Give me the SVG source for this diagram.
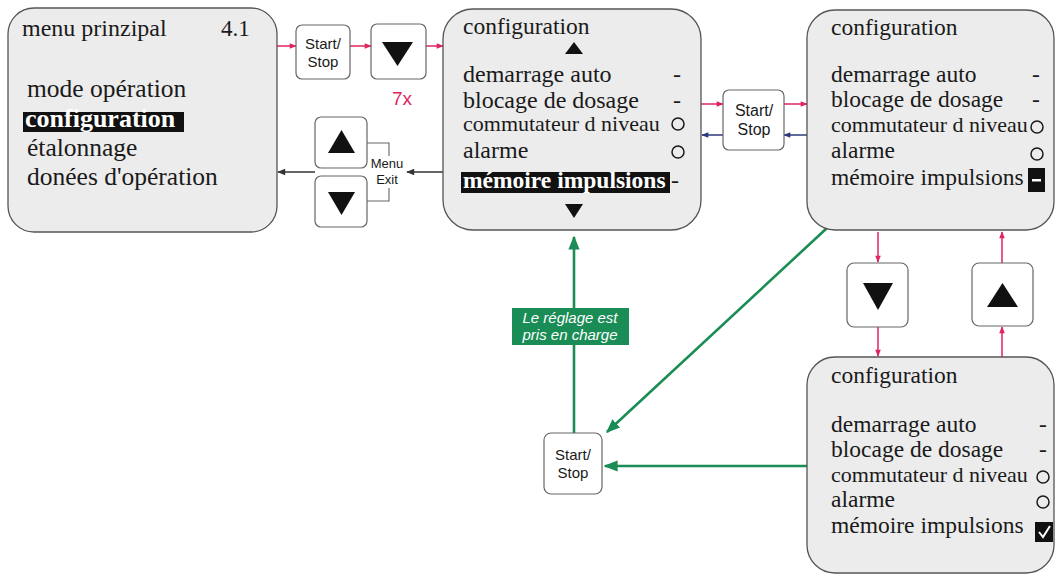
<svg xmlns="http://www.w3.org/2000/svg" width="1057" height="576" viewBox="0 0 1057 576">
<defs>
<style>
.box{fill:#ececec;stroke:#555;stroke-width:1.3}
.btn{fill:#fff;stroke:#666;stroke-width:1.2}
.t{font-family:"Liberation Serif","Times New Roman",serif;fill:#1a1a1a}
.s{font-family:"Liberation Sans",Arial,sans-serif;fill:#1a1a1a;font-size:15px;text-anchor:middle}
.red{stroke:#e0245e;stroke-width:1.5;fill:none}
.navy{stroke:#2b3a7a;stroke-width:1.5;fill:none}
.dark{stroke:#333;stroke-width:1.4;fill:none}
.grn{stroke:#1a8c55;stroke-width:2.6;fill:none}
.circ{fill:none;stroke:#1a1a1a;stroke-width:1.5}
</style>
<marker id="mr" viewBox="0 0 10 10" refX="9" refY="5" markerWidth="8" markerHeight="7" orient="auto" markerUnits="userSpaceOnUse"><path d="M0,1 L10,5 L0,9 z" fill="#e0245e"/></marker>
<marker id="mn" viewBox="0 0 10 10" refX="9" refY="5" markerWidth="8" markerHeight="7" orient="auto" markerUnits="userSpaceOnUse"><path d="M0,1 L10,5 L0,9 z" fill="#2b3a7a"/></marker>
<marker id="md" viewBox="0 0 10 10" refX="9" refY="5" markerWidth="9" markerHeight="8" orient="auto" markerUnits="userSpaceOnUse"><path d="M0,1 L10,5 L0,9 z" fill="#333"/></marker>
<marker id="mg" viewBox="0 0 10 10" refX="9" refY="5" markerWidth="14" markerHeight="14" orient="auto" markerUnits="userSpaceOnUse"><path d="M0,1 L10,5 L0,9 z" fill="#1a8c55"/></marker>
</defs>

<g id="connectors">
<line class="red" x1="277" y1="46" x2="296" y2="46" marker-end="url(#mr)"/>
<line class="red" x1="350" y1="46" x2="371" y2="46" marker-end="url(#mr)"/>
<line class="red" x1="426" y1="46" x2="443" y2="46" marker-end="url(#mr)"/>
<line class="dark" x1="443" y1="172" x2="407" y2="172" marker-end="url(#md)"/>
<line class="dark" x1="315" y1="172" x2="278" y2="172" marker-end="url(#md)"/>
<line class="red" x1="701" y1="104" x2="723" y2="104" marker-end="url(#mr)"/>
<line class="red" x1="784" y1="104" x2="807" y2="104" marker-end="url(#mr)"/>
<line class="navy" x1="807" y1="135" x2="784" y2="135" marker-end="url(#mn)"/>
<line class="navy" x1="723" y1="135" x2="702" y2="135" marker-end="url(#mn)"/>
<line class="red" x1="878" y1="232" x2="878" y2="262" marker-end="url(#mr)"/>
<line class="red" x1="878" y1="327" x2="878" y2="356" marker-end="url(#mr)"/>
<line class="red" x1="1002" y1="357" x2="1002" y2="327" marker-end="url(#mr)"/>
<line class="red" x1="1002" y1="263" x2="1002" y2="232" marker-end="url(#mr)"/>
<line class="grn" x1="574" y1="433" x2="574" y2="237" marker-end="url(#mg)"/>
<line class="grn" x1="827" y1="228" x2="607" y2="432" marker-end="url(#mg)"/>
<line class="grn" x1="807" y1="466" x2="605" y2="466" marker-end="url(#mg)"/>
</g>

<g id="menu-principal">
<rect class="box" x="8" y="8" width="269" height="224" rx="26"/>
<text class="t" x="22" y="36" font-size="24">menu prinzipal</text>
<text class="t" x="221" y="36" font-size="23">4.1</text>
<text class="t" x="27" y="97" font-size="25.5">mode opération</text>
<rect x="23" y="112" width="161" height="20" fill="#111"/>
<text class="t" x="25" y="127" font-size="26" font-weight="bold" style="fill:#fff">configuration</text>
<text class="t" x="27" y="156" font-size="25.5">étalonnage</text>
<text class="t" x="27" y="185" font-size="25.5">donées d'opération</text>
</g>

<g id="btn-startstop-1">
<rect class="btn" x="296" y="25" width="54" height="54" rx="6"/>
<text class="s" x="323" y="49">Start/</text>
<text class="s" x="323" y="67">Stop</text>
</g>

<g id="btn-down-1">
<rect class="btn" x="371" y="24" width="55" height="55" rx="6"/>
<path d="M382,42 L413,42 L397.5,66 z" fill="#111"/>
<text x="402" y="105" font-family="Liberation Sans,Arial,sans-serif" font-size="19" fill="#e0245e" text-anchor="middle">7x</text>
</g>

<g id="btn-up-menu">
<rect class="btn" x="315" y="117" width="52" height="51" rx="6"/>
<path d="M328,153 L355,153 L341.5,130 z" fill="#111"/>
</g>
<g id="btn-down-menu">
<rect class="btn" x="315" y="176" width="52" height="51" rx="6"/>
<path d="M328,192 L355,192 L341.5,215 z" fill="#111"/>
</g>
<g id="menu-exit">
<path d="M367,143 H389 V156 M389,188 V201 H367" fill="none" stroke="#666" stroke-width="1.1"/>
<text class="s" x="387" y="168" style="font-size:13px">Menu</text>
<text class="s" x="387" y="184" style="font-size:13px">Exit</text>
</g>

<g id="config-1">
<rect class="box" x="443" y="9" width="258" height="221" rx="30"/>
<text class="t" x="463" y="34" font-size="23.5">configuration</text>
<path d="M565,54 L583,54 L574,42 z" fill="#111"/>
<text class="t" x="463" y="82" font-size="24">demarrage auto</text>
<text class="t" x="673" y="82" font-size="24">-</text>
<text class="t" x="463" y="108" font-size="24">blocage de dosage</text>
<text class="t" x="673" y="108" font-size="24">-</text>
<text class="t" x="463" y="131" font-size="22">commutateur d niveau</text>
<circle class="circ" cx="678" cy="124" r="6"/>
<text class="t" x="463" y="158" font-size="24">alarme</text>
<circle class="circ" cx="678" cy="152" r="6"/>
<rect x="461" y="172" width="209" height="21" fill="#111"/>
<text class="t" x="463" y="188" font-size="23.5" font-weight="bold" style="fill:#fff">mémoire impulsions</text>
<text class="t" x="671" y="188" font-size="24">-</text>
<path d="M565,204 L583,204 L574,218 z" fill="#111"/>
</g>

<g id="btn-startstop-2">
<rect class="btn" x="723" y="90" width="61" height="60" rx="6"/>
<text class="s" x="754" y="116" style="font-size:16px">Start/</text>
<text class="s" x="754" y="135" style="font-size:16px">Stop</text>
</g>

<g id="config-2">
<rect class="box" x="807" y="10" width="247" height="220" rx="28"/>
<text class="t" x="831" y="35" font-size="23.5">configuration</text>
<text class="t" x="831" y="82" font-size="23.5">demarrage auto</text>
<text class="t" x="1032" y="82" font-size="23.5">-</text>
<text class="t" x="831" y="107" font-size="23.5">blocage de dosage</text>
<text class="t" x="1032" y="107" font-size="23.5">-</text>
<text class="t" x="831" y="132" font-size="22">commutateur d niveau</text>
<circle class="circ" cx="1037" cy="127" r="6"/>
<text class="t" x="831" y="158" font-size="23.5">alarme</text>
<circle class="circ" cx="1037" cy="154" r="6"/>
<text class="t" x="831" y="185" font-size="23.5">mémoire impulsions</text>
<rect x="1028" y="168" width="17" height="24" fill="#111"/>
<rect x="1032" y="179" width="9" height="2.5" fill="#fff"/>
</g>

<g id="btn-down-2">
<rect class="btn" x="847" y="263" width="61" height="64" rx="7"/>
<path d="M863,283 L893,283 L878,310 z" fill="#111"/>
</g>
<g id="btn-up-2">
<rect class="btn" x="972" y="263" width="61" height="63" rx="7"/>
<path d="M987,307 L1018,307 L1002.5,283 z" fill="#111"/>
</g>

<g id="config-3">
<rect class="box" x="807" y="357" width="247" height="216" rx="28"/>
<text class="t" x="831" y="383" font-size="23.5">configuration</text>
<text class="t" x="831" y="432" font-size="23.5">demarrage auto</text>
<text class="t" x="1039" y="432" font-size="23.5">-</text>
<text class="t" x="831" y="457" font-size="23.5">blocage de dosage</text>
<text class="t" x="1039" y="457" font-size="23.5">-</text>
<text class="t" x="831" y="482" font-size="22">commutateur d niveau</text>
<circle class="circ" cx="1043" cy="477" r="6"/>
<text class="t" x="831" y="507" font-size="23.5">alarme</text>
<circle class="circ" cx="1043" cy="502" r="6"/>
<text class="t" x="831" y="533" font-size="23.5">mémoire impulsions</text>
<rect x="1035" y="522" width="18" height="20" fill="#111"/>
<path d="M1039,532 L1043,537 L1050,526" fill="none" stroke="#fff" stroke-width="2"/>
</g>

<g id="label-green">
<rect x="512" y="308" width="117" height="37" fill="#1a8c55"/>
<text class="s" x="570" y="323" font-style="italic" style="fill:#fff">Le réglage est</text>
<text class="s" x="570" y="340" font-style="italic" style="fill:#fff">pris en charge</text>
</g>

<g id="btn-startstop-3">
<rect class="btn" x="544" y="433" width="58" height="61" rx="7"/>
<text class="s" x="573" y="460">Start/</text>
<text class="s" x="573" y="478">Stop</text>
</g>
</svg>
